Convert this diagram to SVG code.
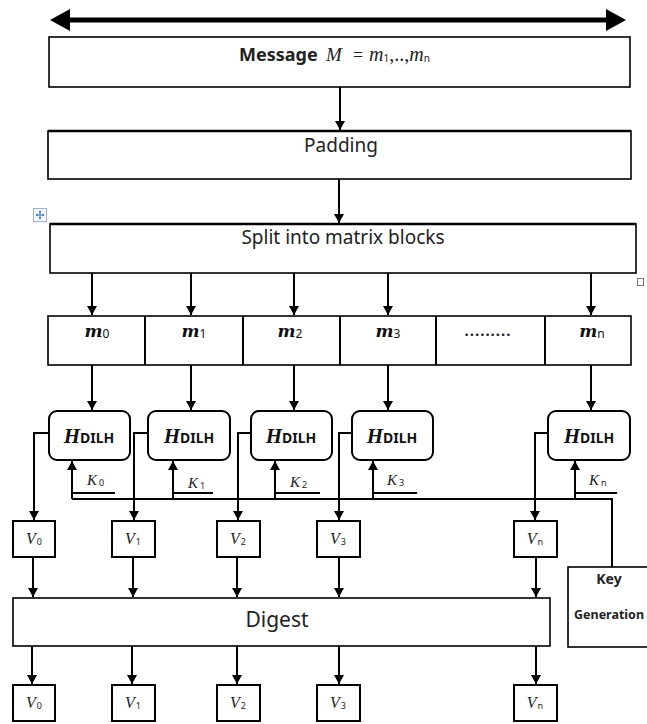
<svg xmlns="http://www.w3.org/2000/svg" width="647" height="724" viewBox="0 0 647 724">
<style>
.box{fill:#fff;stroke:#000;stroke-width:1.6}
.hb{fill:#fff;stroke:#000;stroke-width:2}
.vb{fill:#fff;stroke:#000;stroke-width:2}
.ln{fill:none;stroke:#000;stroke-width:2}
.ar{fill:none;stroke:#000;stroke-width:2;marker-end:url(#ah)}
.sans{font-family:"Noto Sans","Open Sans",sans-serif;fill:#222}
.ser{font-family:"Liberation Serif","DejaVu Serif",serif;font-style:italic;fill:#222}
.mm{font-family:"DejaVu Serif","Liberation Serif",serif;font-style:italic;font-weight:bold;font-size:17px;fill:#111}
.sub{font-family:"Noto Sans","Open Sans",sans-serif;font-style:normal;font-weight:normal}
.h{font-family:"Liberation Serif",serif;font-style:italic;font-weight:bold;font-size:21px;fill:#111}
.hs{font-family:"Noto Sans","Liberation Sans",sans-serif;font-style:normal;font-weight:bold;font-size:14px}
</style>
<defs>
<marker id="ah" markerUnits="userSpaceOnUse" markerWidth="9" markerHeight="10" refX="9" refY="5" orient="auto">
<path d="M0,0 L9,5 L0,10 z" fill="#000"/>
</marker>
</defs>
<rect width="647" height="724" fill="#fff"/>

<g id="connectors">
<line x1="67" y1="20" x2="609" y2="20" stroke="#000" stroke-width="5"/>
<polygon points="50,20 70,9 70,31" fill="#000"/>
<polygon points="626,20 606,9 606,31" fill="#000"/>
<path class="ar" d="M340,87 V130"/>
<path class="ar" d="M339,179 V223"/>
<path class="ar" d="M92,273 V315"/>
<path class="ar" d="M191,273 V315"/>
<path class="ar" d="M294,273 V315"/>
<path class="ar" d="M388,273 V315"/>
<path class="ar" d="M591,273 V315"/>
<path class="ar" d="M92,365 V410"/>
<path class="ar" d="M191,365 V410"/>
<path class="ar" d="M294,365 V410"/>
<path class="ar" d="M388,365 V410"/>
<path class="ar" d="M591,365 V410"/>
<path class="ar" d="M49,433 H34 V520"/>
<path class="ar" d="M148,433 H134 V520"/>
<path class="ar" d="M251,433 H238 V520"/>
<path class="ar" d="M352,433 H339 V520"/>
<path class="ar" d="M548,433 H535 V520"/>
<path class="ln" d="M72,499 H612 V567"/>
<path class="ar" d="M72,499 V461"/>
<path class="ar" d="M173,499 V461"/>
<path class="ar" d="M275,499 V461"/>
<path class="ar" d="M373,499 V461"/>
<path class="ar" d="M575,499 V461"/>
<path class="ln" d="M72,493 H115 M173,493 H213 M275,493 H320 M373,493 H417 M575,493 H617"/>
<path class="ar" d="M33,557 V597"/>
<path class="ar" d="M133,557 V597"/>
<path class="ar" d="M237,557 V597"/>
<path class="ar" d="M339,557 V597"/>
<path class="ar" d="M536,557 V597"/>
<path class="ar" d="M32,646 V684"/>
<path class="ar" d="M132,646 V684"/>
<path class="ar" d="M237,646 V684"/>
<path class="ar" d="M339,646 V684"/>
<path class="ar" d="M536,646 V684"/>
</g>

<g id="message">
<rect class="box" x="49" y="37" width="581" height="50"/>
<text class="sans" x="239" y="61" font-size="18" font-weight="bold">Message</text>
<text class="ser" x="326" y="61" font-size="19">M</text>
<text x="353" y="61" font-size="18" font-family="Liberation Serif,serif" fill="#222">=</text>
<text class="ser" x="369" y="61" font-size="20">m<tspan class="sub" font-size="10" dy="1">1</tspan><tspan dy="-1" font-style="normal">,..,</tspan>m<tspan class="sub" font-size="10" dy="1">n</tspan></text>
</g>

<g id="padding">
<rect class="box" x="48" y="131" width="583" height="48"/>
<line x1="48" y1="131" x2="631" y2="131" stroke="#000" stroke-width="2.4"/>
<text class="sans" x="341" y="152" font-size="19" text-anchor="middle">Padding</text>
</g>

<g id="split">
<rect class="box" x="50" y="224" width="586" height="49"/>
<line x1="50" y1="224" x2="636" y2="224" stroke="#000" stroke-width="2.4"/>
<text class="sans" x="343" y="244" font-size="19" text-anchor="middle">Split into matrix blocks</text>
</g>

<g id="move-icon">
<rect x="33.5" y="208.5" width="13" height="13" fill="#f4f7fb" stroke="#9fb3cc" stroke-width="1"/>
<path d="M40,211 V219 M36,215 H44" stroke="#3a6fb0" stroke-width="1" fill="none"/>
<path d="M40,210.5 l-1.5,2 h3 z M40,219.5 l-1.5,-2 h3 z M35.5,215 l2,-1.5 v3 z M44.5,215 l-2,-1.5 v3 z" fill="#3a6fb0"/>
</g>
<g id="resize-handle">
<rect x="637.5" y="278.5" width="6" height="7" fill="#fff" stroke="#777" stroke-width="1"/>
</g>

<g id="blocks">
<rect class="box" x="48" y="316" width="583" height="49"/>
<path class="ln" d="M145,316 V365 M243,316 V365 M340,316 V365 M436,316 V365 M545,316 V365" stroke-width="1.6"/>
<text class="mm" x="97" y="337" text-anchor="middle">m<tspan class="sub" font-size="12" dy="1">0</tspan></text>
<text class="mm" x="194" y="337" text-anchor="middle">m<tspan class="sub" font-size="12" dy="1">1</tspan></text>
<text class="mm" x="290" y="337" text-anchor="middle">m<tspan class="sub" font-size="12" dy="1">2</tspan></text>
<text class="mm" x="388" y="337" text-anchor="middle">m<tspan class="sub" font-size="12" dy="1">3</tspan></text>
<text class="sans" x="488" y="336" font-size="15" font-weight="bold" text-anchor="middle" letter-spacing="1">.........</text>
<text class="mm" x="592" y="337" text-anchor="middle">m<tspan class="sub" font-size="12" dy="1">n</tspan></text>
</g>

<g id="h0"><rect class="hb" x="49" y="411" width="81" height="49" rx="8"/><text class="h" x="89" y="443" text-anchor="middle">H<tspan class="hs">DILH</tspan></text></g>
<g id="h1"><rect class="hb" x="148" y="411" width="82" height="49" rx="8"/><text class="h" x="189" y="443" text-anchor="middle">H<tspan class="hs">DILH</tspan></text></g>
<g id="h2"><rect class="hb" x="251" y="411" width="81" height="49" rx="8"/><text class="h" x="291" y="443" text-anchor="middle">H<tspan class="hs">DILH</tspan></text></g>
<g id="h3"><rect class="hb" x="352" y="411" width="81" height="49" rx="8"/><text class="h" x="392" y="443" text-anchor="middle">H<tspan class="hs">DILH</tspan></text></g>
<g id="hn"><rect class="hb" x="548" y="411" width="82" height="49" rx="8"/><text class="h" x="589" y="443" text-anchor="middle">H<tspan class="hs">DILH</tspan></text></g>

<g id="keys">
<text class="ser" x="87" y="485" font-size="15">K<tspan class="sub" font-size="9" dx="2" dy="1">0</tspan></text>
<text class="ser" x="188" y="488" font-size="15">K<tspan class="sub" font-size="9" dx="2" dy="1">1</tspan></text>
<text class="ser" x="290" y="487" font-size="15">K<tspan class="sub" font-size="9" dx="2" dy="1">2</tspan></text>
<text class="ser" x="387" y="485" font-size="15">K<tspan class="sub" font-size="9" dx="2" dy="1">3</tspan></text>
<text class="ser" x="589" y="485" font-size="15">K<tspan class="sub" font-size="9" dx="2" dy="1">n</tspan></text>
</g>

<g id="v-top">
<g id="v0a"><rect class="vb" x="13" y="521" width="42" height="36"/><text class="ser" x="34" y="544" font-size="16" text-anchor="middle">V<tspan class="sub" font-size="9" dx="1" dy="1">0</tspan></text></g>
<g id="v1a"><rect class="vb" x="112" y="521" width="43" height="36"/><text class="ser" x="133" y="544" font-size="16" text-anchor="middle">V<tspan class="sub" font-size="9" dx="1" dy="1">1</tspan></text></g>
<g id="v2a"><rect class="vb" x="217" y="521" width="43" height="36"/><text class="ser" x="238" y="544" font-size="16" text-anchor="middle">V<tspan class="sub" font-size="9" dx="1" dy="1">2</tspan></text></g>
<g id="v3a"><rect class="vb" x="317" y="521" width="43" height="36"/><text class="ser" x="338" y="544" font-size="16" text-anchor="middle">V<tspan class="sub" font-size="9" dx="1" dy="1">3</tspan></text></g>
<g id="vna"><rect class="vb" x="514" y="521" width="43" height="36"/><text class="ser" x="535" y="544" font-size="16" text-anchor="middle">V<tspan class="sub" font-size="9" dx="1" dy="1">n</tspan></text></g>
</g>

<g id="digest">
<rect class="box" x="13" y="598" width="537" height="48" stroke-width="2"/>
<text class="sans" x="277" y="627" font-size="21" text-anchor="middle">Digest</text>
</g>

<g id="keygen">
<rect class="box" x="568" y="567" width="92" height="80"/>
<text class="sans" x="609" y="584" font-size="14" font-weight="bold" text-anchor="middle">Key</text>
<text class="sans" x="574" y="619" font-size="12.5" font-weight="bold">Generation</text>
</g>

<g id="v-bottom">
<g id="v0b"><rect class="vb" x="13" y="685" width="42" height="36"/><text class="ser" x="34" y="708" font-size="16" text-anchor="middle">V<tspan class="sub" font-size="9" dx="1" dy="1">0</tspan></text></g>
<g id="v1b"><rect class="vb" x="112" y="685" width="43" height="36"/><text class="ser" x="133" y="708" font-size="16" text-anchor="middle">V<tspan class="sub" font-size="9" dx="1" dy="1">1</tspan></text></g>
<g id="v2b"><rect class="vb" x="217" y="685" width="43" height="36"/><text class="ser" x="238" y="708" font-size="16" text-anchor="middle">V<tspan class="sub" font-size="9" dx="1" dy="1">2</tspan></text></g>
<g id="v3b"><rect class="vb" x="317" y="685" width="43" height="36"/><text class="ser" x="338" y="708" font-size="16" text-anchor="middle">V<tspan class="sub" font-size="9" dx="1" dy="1">3</tspan></text></g>
<g id="vnb"><rect class="vb" x="514" y="685" width="43" height="36"/><text class="ser" x="535" y="708" font-size="16" text-anchor="middle">V<tspan class="sub" font-size="9" dx="1" dy="1">n</tspan></text></g>
</g>
</svg>
